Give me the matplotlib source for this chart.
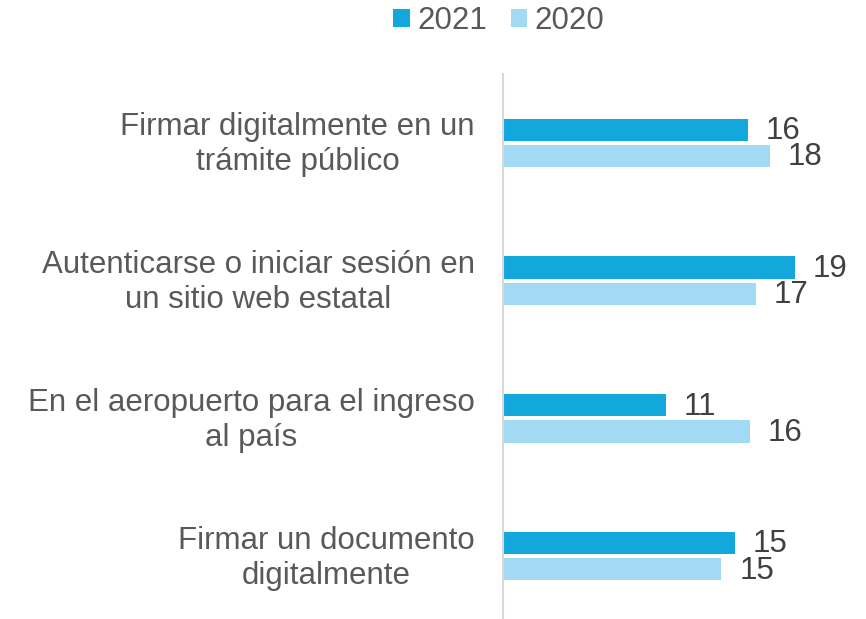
import numpy as np
import matplotlib.pyplot as plt

plt.rcParams['font.family'] = ['Liberation Sans', 'DejaVu Sans']

categories = [
    "Firmar digitalmente en un\ntrámite público",
    "Autenticarse o iniciar sesión en\nun sitio web estatal",
    "En el aeropuerto para el ingreso\nal país",
    "Firmar un documento\ndigitalmente",
]
vals_2021 = [16.3, 19.45, 10.85, 15.45]
vals_2020 = [17.8, 16.85, 16.45, 14.55]
labels_2021 = ["16", "19", "11", "15"]
labels_2020 = ["18", "17", "16", "15"]

c2021 = "#12A8DC"
c2020 = "#A2D9F3"


def main():
    fig = plt.figure(figsize=(8.66, 6.19), dpi=100)
    ax = fig.add_axes([0.581, -0.0097, 0.381, 0.8902])

    y = np.arange(len(categories))
    off = 0.095
    h = 0.162
    ax.barh(y - off, vals_2021, height=h, color=c2021, label="2021")
    ax.barh(y + off, vals_2020, height=h, color=c2020, label="2020")

    fs = 22.5
    for yi, v, t in zip(y - off, vals_2021, labels_2021):
        ax.text(v + 1.2, yi + 0.01, t, va="center", ha="left", fontsize=fs, color="#404040")
    for yi, v, t in zip(y + off, vals_2020, labels_2020):
        ax.text(v + 1.2, yi + 0.01, t, va="center", ha="left", fontsize=fs, color="#404040")

    for yi, cat in zip(y, categories):
        ax.text(-1.9, yi + 0.015, cat, ha="right", va="center", multialignment="center",
                fontsize=fs, color="#595959", linespacing=1.22)

    ax.set_xlim(0, 22)
    ax.set_ylim(len(categories) - 0.5, -0.5)
    ax.set_xticks([])
    ax.set_yticks([])
    for s in ["top", "right", "bottom"]:
        ax.spines[s].set_visible(False)
    ax.spines["left"].set_color("#d9d9d9")
    ax.spines["left"].set_linewidth(1.5)

    fig.legend(loc="center", bbox_to_anchor=(0.576, 0.966), ncol=2, frameon=False,
               fontsize=fs, handlelength=0.52, handleheight=0.52, handletextpad=0.25,
               columnspacing=0.75, labelcolor="#595959", borderpad=0)

    plt.savefig("out.png", dpi=100)


if __name__ == "__main__":
    main()
